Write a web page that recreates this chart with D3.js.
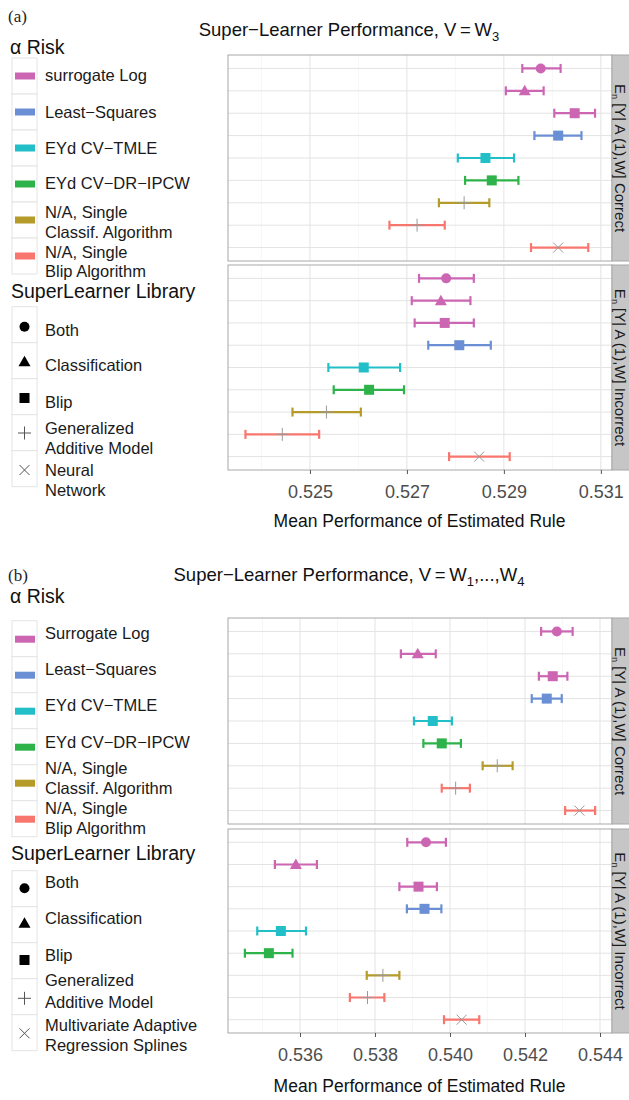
<!DOCTYPE html>
<html>
<head>
<meta charset="utf-8">
<script src="https://cdn.jsdelivr.net/npm/d3@7"></script>
<style>
  body { margin: 0; background: #fff; }
  svg { font-family: "Liberation Sans", Arial, sans-serif; }
</style>
</head>
<body>
<svg id="chart" width="629" height="1100"></svg>
<script>
// categories
const riskLabelsA = [["surrogate Log"], ["Least\u2212Squares"], ["EYd CV\u2212TMLE"], ["EYd CV\u2212DR\u2212IPCW"],
    ["N/A, Single", "Classif. Algorithm"], ["N/A, Single", "Blip Algorithm"]];
const riskLabelsB = [["Surrogate Log"], ["Least\u2212Squares"], ["EYd CV\u2212TMLE"], ["EYd CV\u2212DR\u2212IPCW"],
    ["N/A, Single", "Classif. Algorithm"], ["N/A, Single", "Blip Algorithm"]];
const riskColors = ["#cc66b3", "#6a8fd4", "#22bfc8", "#2db34a", "#b59b2a", "#f8766d"];
const libShapes = ["circle", "triangle", "square", "plus", "cross"];
const libLabelsA = [["Both"], ["Classification"], ["Blip"], ["Generalized", "Additive Model"], ["Neural", "Network"]];
const libLabelsB = [["Both"], ["Classification"], ["Blip"], ["Generalized", "Additive Model"], ["Multivariate Adaptive", "Regression Splines"]];

// each row of a facet: which risk and which library
const rowRisk = [0, 0, 0, 1, 2, 3, 4, 5, 5];
const rowLib = [0, 1, 2, 2, 2, 2, 3, 3, 4];

// panel (a): V = W3
const aCorrMean = [0.52976, 0.52943, 0.53046, 0.53012, 0.52862, 0.52875, 0.52818, 0.52721, 0.53012];
const aCorrLo   = [0.52938, 0.52904, 0.53004, 0.52963, 0.52805, 0.52820, 0.52766, 0.52664, 0.52956];
const aCorrHi   = [0.53017, 0.52982, 0.53088, 0.53060, 0.52921, 0.52930, 0.52870, 0.52778, 0.53074];
const aIncMean  = [0.52781, 0.52770, 0.52778, 0.52808, 0.52611, 0.52622, 0.52534, 0.52443, 0.52849];
const aIncLo    = [0.52725, 0.52710, 0.52716, 0.52744, 0.52538, 0.52549, 0.52464, 0.52367, 0.52787];
const aIncHi    = [0.52838, 0.52831, 0.52838, 0.52873, 0.52686, 0.52694, 0.52605, 0.52519, 0.52912];
const aTicks = [0.525, 0.527, 0.529, 0.531];
const aDomain = [0.52331, 0.53123];

// panel (b): V = W1..W4
const bCorrMean = [0.54285, 0.53914, 0.54274, 0.54258, 0.53954, 0.53978, 0.54126, 0.54015, 0.54345];
const bCorrLo   = [0.54243, 0.53869, 0.54237, 0.54218, 0.53904, 0.53929, 0.54087, 0.53978, 0.54307];
const bCorrHi   = [0.54327, 0.53962, 0.54313, 0.54298, 0.54005, 0.54029, 0.54167, 0.54053, 0.54387];
const bIncMean  = [0.53936, 0.53589, 0.53916, 0.53932, 0.53549, 0.53517, 0.53821, 0.53780, 0.54031];
const bIncLo    = [0.53886, 0.53533, 0.53865, 0.53885, 0.53486, 0.53453, 0.53778, 0.53733, 0.53984];
const bIncHi    = [0.53989, 0.53645, 0.53965, 0.53977, 0.53616, 0.53580, 0.53865, 0.53825, 0.54078];
const bTicks = [0.536, 0.538, 0.540, 0.542, 0.544];
const bDomain = [0.53408, 0.54432];

// title pieces: [text, subscript?]
const titleA = [["Super\u2212Learner Performance, V\u2009=\u2009W", false], ["3", true]];
const titleB = [["Super\u2212Learner Performance, V\u2009=\u2009W", false], ["1", true], [",...,W", false], ["4", true]];

const svg = d3.select("#chart");
svg.append("rect").attr("width", 629).attr("height", 1100).attr("fill", "#fff");

const left = 228, right = 612;
const labelSize = 16.5;

function drawShape(g, shape, cx, cy, fill) {
    if (shape === "circle") {
        g.append("circle").attr("cx", cx).attr("cy", cy).attr("r", 5).attr("fill", fill);
    } else if (shape === "triangle") {
        g.append("path").attr("d", `M${cx},${cy - 6}L${cx + 6},${cy + 4.5}L${cx - 6},${cy + 4.5}Z`).attr("fill", fill);
    } else if (shape === "square") {
        g.append("rect").attr("x", cx - 5).attr("y", cy - 5).attr("width", 10).attr("height", 10).attr("fill", fill);
    } else if (shape === "plus") {
        g.append("path").attr("d", `M${cx - 6.5},${cy}H${cx + 6.5}M${cx},${cy - 6.5}V${cy + 6.5}`)
            .attr("stroke", fill).attr("stroke-width", 1).attr("fill", "none");
    } else {
        g.append("path").attr("d", `M${cx - 5},${cy - 5}L${cx + 5},${cy + 5}M${cx - 5},${cy + 5}L${cx + 5},${cy - 5}`)
            .attr("stroke", fill).attr("stroke-width", 1).attr("fill", "none");
    }
}

function drawFacet(x, ticks, top, bottom, mean, lo, hi, stripLabel) {
    const g = svg.append("g");
    const rows = d3.range(mean.length);
    const y = d3.scalePoint().domain(rows).range([top, bottom]).padding(0.6);

    // minor + major vertical grid
    const minor = ticks.map(t => t - 0.001).concat([ticks[ticks.length - 1] + 0.001])
        .filter(v => v > x.domain()[0] && v < x.domain()[1]);
    g.selectAll(".minor").data(minor).enter().append("line")
        .attr("x1", d => x(d)).attr("x2", d => x(d)).attr("y1", top).attr("y2", bottom)
        .attr("stroke", "#f2f2f2").attr("stroke-width", 0.6);
    g.selectAll(".vgrid").data(ticks).enter().append("line")
        .attr("x1", d => x(d)).attr("x2", d => x(d)).attr("y1", top).attr("y2", bottom)
        .attr("stroke", "#e3e3e3").attr("stroke-width", 1);
    g.selectAll(".hgrid").data(rows).enter().append("line")
        .attr("x1", left).attr("x2", right).attr("y1", d => y(d)).attr("y2", d => y(d))
        .attr("stroke", "#e3e3e3").attr("stroke-width", 1);

    // error bars
    rows.forEach(i => {
        const c = riskColors[rowRisk[i]];
        const yy = y(i);
        g.append("line").attr("x1", x(lo[i])).attr("x2", x(hi[i])).attr("y1", yy).attr("y2", yy)
            .attr("stroke", c).attr("stroke-width", 2.2);
        [lo[i], hi[i]].forEach(v => {
            g.append("line").attr("x1", x(v)).attr("x2", x(v)).attr("y1", yy - 4.5).attr("y2", yy + 4.5)
                .attr("stroke", c).attr("stroke-width", 2.2);
        });
        const shape = libShapes[rowLib[i]];
        const fill = (shape === "plus" || shape === "cross") ? "#999" : c;
        drawShape(g, shape, x(mean[i]), yy, fill);
    });

    // border
    g.append("rect").attr("x", left).attr("y", top).attr("width", right - left).attr("height", bottom - top)
        .attr("fill", "none").attr("stroke", "#a8a8a8").attr("stroke-width", 1);

    // strip
    g.append("rect").attr("x", right).attr("y", top).attr("width", 30).attr("height", bottom - top)
        .attr("fill", "#c6c6c6").attr("stroke", "#a8a8a8");
    const t = g.append("text")
        .attr("transform", `translate(615,${(top + bottom) / 2}) rotate(90)`)
        .attr("text-anchor", "middle").attr("font-size", 15).attr("fill", "#1a1a1a");
    t.append("tspan").text("E");
    t.append("tspan").attr("font-size", 9).attr("dy", 3).text("n");
    t.append("tspan").attr("dy", -3).text(" [Y| A (1),W]  " + stripLabel);
}

function drawLegend(tag, title, riskLabels, libLabels, base, o) {
    svg.append("text").attr("x", 8).attr("y", base + o.tagY).attr("font-family", "Liberation Serif, serif")
        .attr("font-size", 17).attr("fill", "#222").text(tag);

    svg.append("text").attr("x", 10).attr("y", base + o.riskTitleY).attr("font-size", 19.5).attr("fill", "#111")
        .text("\u03b1 Risk");

    const keyH = 36;
    riskLabels.forEach((lab, i) => {
        const ky = base + o.riskTop + i * keyH;
        svg.append("rect").attr("x", 12).attr("y", ky).attr("width", 25).attr("height", keyH)
            .attr("fill", "#fff").attr("stroke", "#e4e4e4");
        svg.append("rect").attr("x", 15).attr("y", ky + o.rectY - 3.5).attr("width", 20).attr("height", 7)
            .attr("fill", riskColors[i]);
        lab.forEach((s, j) => {
            svg.append("text").attr("x", 45).attr("y", ky + o.riskText[i][j]).attr("dominant-baseline", "central")
                .attr("font-size", labelSize).attr("fill", "#1a1a1a").text(s);
        });
    });

    svg.append("text").attr("x", 11).attr("y", base + o.libTitleY).attr("font-size", 19.5).attr("fill", "#111")
        .text("SuperLearner Library");

    libLabels.forEach((lab, i) => {
        const ky = base + o.libTop + i * keyH;
        svg.append("rect").attr("x", 12).attr("y", ky).attr("width", 25).attr("height", keyH)
            .attr("fill", "#fff").attr("stroke", "#e4e4e4");
        const shape = libShapes[i];
        const g = svg.append("g");
        drawShape(g, shape, 24.5, ky + o.shapeY[i], (shape === "plus" || shape === "cross") ? "#555" : "#000");
        lab.forEach((s, j) => {
            svg.append("text").attr("x", 45).attr("y", ky + o.libText[i][j]).attr("dominant-baseline", "central")
                .attr("font-size", labelSize).attr("fill", "#1a1a1a").text(s);
        });
    });

    // main title
    const tt = svg.append("text").attr("x", 349).attr("y", base + o.titleY).attr("text-anchor", "middle")
        .attr("font-size", 18.5).attr("fill", "#111");
    let shifted = 0;
    title.forEach(([s, sub]) => {
        const dy = sub ? 5 - shifted : -shifted;
        shifted = sub ? 5 : 0;
        tt.append("tspan").attr("font-size", sub ? 13 : 18.5).attr("dy", dy).text(s);
    });
}

function drawPanel(domain, ticks, facets, axisBase) {
    const x = d3.scaleLinear().domain(domain).range([left, right]);
    facets.forEach(f => drawFacet(x, ticks, f.top, f.bottom, f.mean, f.lo, f.hi, f.label));
    const bottom = facets[facets.length - 1].bottom;

    const ax = svg.append("g").attr("transform", `translate(0,${bottom})`)
        .call(d3.axisBottom(x).tickValues(ticks).tickFormat(d3.format(".3f")).tickSize(4).tickPadding(11));
    ax.select(".domain").remove();
    ax.selectAll(".tick line").attr("stroke", "#555");
    ax.selectAll(".tick text").attr("font-size", 18).attr("fill", "#4d4d4d")
        .attr("font-family", "Liberation Sans, Arial, sans-serif");

    svg.append("text").attr("x", (left + right) / 2 - 0.5).attr("y", axisBase).attr("text-anchor", "middle")
        .attr("font-size", 17.5).attr("fill", "#111").text("Mean Performance of Estimated Rule");
}

// panel (a)
drawLegend("(a)", titleA, riskLabelsA, libLabelsA, 0, {
    tagY: 22, titleY: 36, riskTitleY: 54, riskTop: 58, rectY: 18,
    riskText: [[17], [18.4], [18], [17.3], [10, 30], [14, 32.8]],
    libTitleY: 298, libTop: 306.7,
    shapeY: [20, 19, 19.3, 18.3, 19.3],
    libText: [[23.3], [22.3], [23], [13.3, 33.3], [19.3, 39.3]]
});
drawPanel(aDomain, aTicks, [
    { top: 55, bottom: 261, mean: aCorrMean, lo: aCorrLo, hi: aCorrHi, label: "Correct" },
    { top: 265, bottom: 470, mean: aIncMean, lo: aIncLo, hi: aIncHi, label: "Incorrect" }
], 527);

// panel (b)
drawLegend("(b)", titleB, riskLabelsB, libLabelsB, 560, {
    tagY: 21, titleY: 21, riskTitleY: 43, riskTop: 60.7, rectY: 18.5,
    riskText: [[12.6], [12.6], [12.3], [13], [3.6, 23.6], [6.8, 27.6]],
    libTitleY: 300, libTop: 310.7,
    shapeY: [17.6, 16.6, 17.3, 19.6, 18.6],
    libText: [[11], [11.6], [12.3], [1.3, 23], [10.3, 30.3]]
});
drawPanel(bDomain, bTicks, [
    { top: 618, bottom: 824, mean: bCorrMean, lo: bCorrLo, hi: bCorrHi, label: "Correct" },
    { top: 829, bottom: 1033, mean: bIncMean, lo: bIncLo, hi: bIncHi, label: "Incorrect" }
], 1092);
</script>
</body>
</html>
